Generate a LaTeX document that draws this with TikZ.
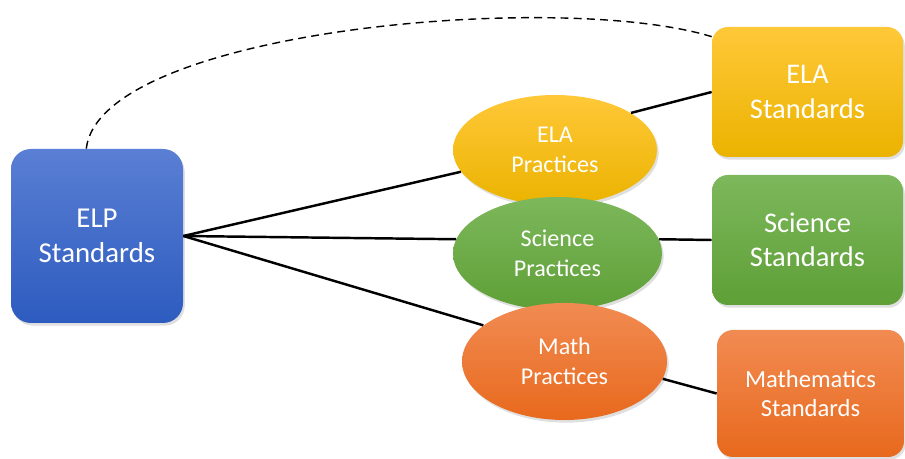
\documentclass[tikz,border=0pt]{standalone}
\usepackage{fontspec}
\setmainfont{Carlito}
\usepackage{tikz}
\usetikzlibrary{shapes.geometric,shadows}

\definecolor{elptop}{HTML}{5A7FD4}
\definecolor{elpbot}{HTML}{2D5BBF}
\definecolor{elatop}{HTML}{FFC838}
\definecolor{elabot}{HTML}{EBB300}
\definecolor{scitop}{HTML}{7DB85C}
\definecolor{scibot}{HTML}{5E9F36}
\definecolor{mathtop}{HTML}{F18B52}
\definecolor{mathbot}{HTML}{E8691D}

\begin{document}
\begin{tikzpicture}[
    stdbox/.style={rectangle, rounded corners=0.32cm, align=center, text=white,
      inner sep=0pt, drop shadow={shadow xshift=1pt, shadow yshift=-1.5pt, opacity=0.25}},
    practice/.style={ellipse, align=center, text=white, inner sep=0pt,
      font=\fontsize{13.7}{17}\selectfont,
      drop shadow={shadow xshift=1pt, shadow yshift=-1.5pt, opacity=0.25}},
    link/.style={line width=1.4pt, black}
  ]

    \useasboundingbox (0,0) rectangle (18.1,9.18);

    % the standards
    \node[stdbox, rounded corners=0.4cm, minimum width=3.44cm, minimum height=3.48cm,
      top color=elptop, bottom color=elpbot,
      font=\fontsize{16.4}{20}\selectfont] (elp) at (1.94, 4.46) {ELP\\Standards};

    \node[stdbox, minimum width=3.82cm, minimum height=2.6cm,
      top color=elatop, bottom color=elabot,
      font=\fontsize{16.2}{19.5}\selectfont] (elastd) at (16.15, 7.34) {ELA\\Standards};
    \node[stdbox, minimum width=3.82cm, minimum height=2.6cm,
      top color=scitop, bottom color=scibot,
      font=\fontsize{16.2}{19.5}\selectfont] (scistd) at (16.15, 4.38) {Science\\Standards};
    \node[stdbox, minimum width=3.74cm, minimum height=2.54cm,
      top color=mathtop, bottom color=mathbot,
      font=\fontsize{14}{17}\selectfont] (mathstd) at (16.21, 1.31) {Mathematics\\Standards};

    % the practices, each one laid over the one above
    \node[practice, minimum width=4.08cm, minimum height=2.2cm,
      top color=elatop, bottom color=elabot] (elapr) at (11.1, 6.18) {ELA\\Practices};
    \node[practice, minimum width=4.18cm, minimum height=2.26cm,
      top color=scitop, bottom color=scibot] (scipr) at (11.15, 4.11) {Science\\Practices};
    \node[practice, minimum width=4.1cm, minimum height=2.34cm,
      top color=mathtop, bottom color=mathbot] (mathpr) at (11.29, 1.95) {Math\\Practices};

    % links
    \draw [link] (elp.east) to (elapr);
    \draw [link] (elp.east) to (scipr.172);
    \draw [link] (elp.east) to (mathpr.156);

    \draw [link] (elapr.26) to (elastd.west);
    \draw [link] (scipr.8) to (scistd.west);
    \draw [link] (mathpr.-10) to (mathstd.west);

    \draw [line width=0.8pt, dash pattern=on 4.5pt off 3pt]
      (elp.97) .. controls (2.0, 8.58) and (11.2, 9.38) .. (elastd.150);

  \end{tikzpicture}
\end{document}
